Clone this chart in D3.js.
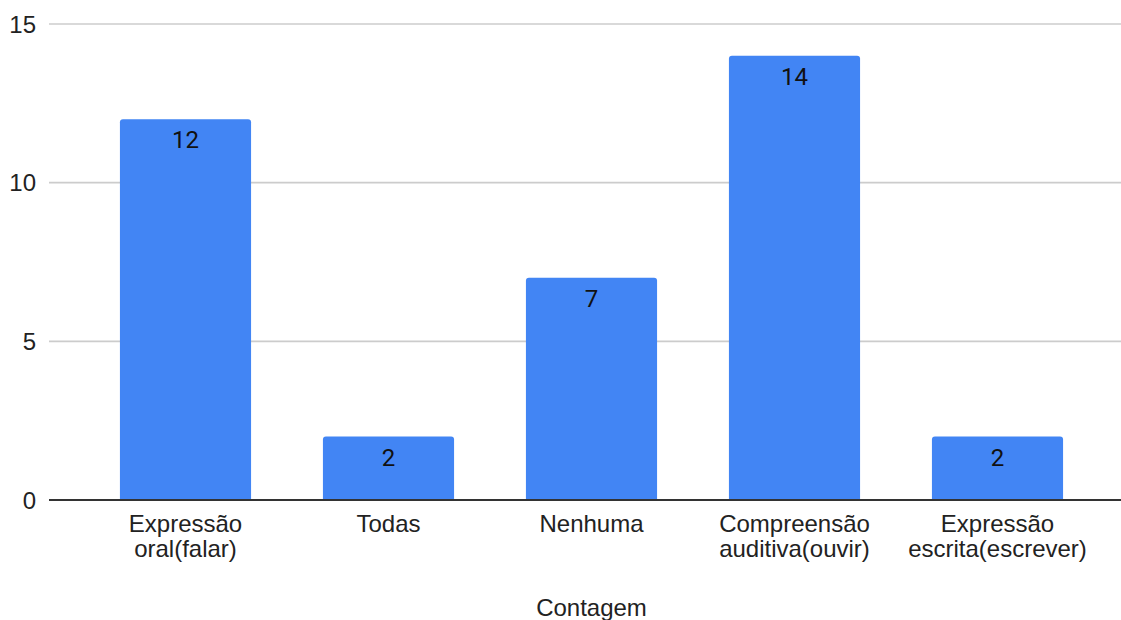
<!DOCTYPE html>
<html>
<head>
<meta charset="utf-8">
<script src="https://cdn.jsdelivr.net/npm/d3@7"></script>
<style>
  html, body { margin: 0; padding: 0; background: #fff; }
  svg { display: block; }
</style>
</head>
<body>
<svg id="chart" width="1121" height="620"></svg>
<script>
// Category labels (each split into lines) and counts
const categories = [
  ["Expressão", "oral(falar)"],
  ["Todas"],
  ["Nenhuma"],
  ["Compreensão", "auditiva(ouvir)"],
  ["Expressão", "escrita(escrever)"]
];
const counts = [12, 2, 7, 14, 2];
const yTicks = [0, 5, 10, 15];
const axisTitle = "Contagem";

const svg = d3.select("#chart");
const W = 1121;

const gridLeft = 49, gridRight = W;
const x = d3.scaleBand()
  .domain(d3.range(categories.length))
  .range([84, 1099])
  .paddingInner(0.354)
  .paddingOuter(0.177);

const y = d3.scaleLinear().domain([0, 15]).range([500, 24]);

// horizontal gridlines
svg.append("g")
  .selectAll("line")
  .data(yTicks.filter(d => d !== 0))
  .join("line")
  .attr("x1", gridLeft).attr("x2", gridRight)
  .attr("y1", d => y(d)).attr("y2", d => y(d))
  .attr("stroke", "#cccccc").attr("stroke-width", 1.6);

// y tick labels
svg.append("g")
  .selectAll("text")
  .data(yTicks)
  .join("text")
  .attr("x", 36)
  .attr("y", d => y(d))
  .attr("dy", "0.36em")
  .attr("text-anchor", "end")
  .attr("font-family", "Liberation Sans, Arial, sans-serif")
  .attr("font-size", 24)
  .attr("fill", "#222")
  .text(d => d);

// bars with lightly rounded top corners
const r = 3;
function barPath(i) {
  const x0 = x(i), x1 = x(i) + x.bandwidth();
  const y0 = y(counts[i]), yb = y(0);
  return `M${x0},${yb}V${y0 + r}Q${x0},${y0} ${x0 + r},${y0}H${x1 - r}Q${x1},${y0} ${x1},${y0 + r}V${yb}Z`;
}
svg.append("g")
  .selectAll("path")
  .data(d3.range(counts.length))
  .join("path")
  .attr("d", barPath)
  .attr("fill", "#4285f4");

// value labels inside the bar tops
svg.append("g")
  .selectAll("text")
  .data(d3.range(counts.length))
  .join("text")
  .attr("x", i => x(i) + x.bandwidth() / 2)
  .attr("y", i => y(counts[i]) + 29)
  .attr("text-anchor", "middle")
  .attr("font-family", "Roboto, sans-serif")
  .attr("font-size", 24)
  .attr("fill", "#111")
  .text(i => counts[i]);

// baseline
svg.append("line")
  .attr("x1", gridLeft).attr("x2", gridRight)
  .attr("y1", y(0)).attr("y2", y(0))
  .attr("stroke", "#333").attr("stroke-width", 2);

// category labels
const cat = svg.append("g")
  .selectAll("text")
  .data(categories)
  .join("text")
  .attr("text-anchor", "middle")
  .attr("font-family", "Liberation Sans, Arial, sans-serif")
  .attr("font-size", 24)
  .attr("fill", "#222");
cat.each(function(lines, i) {
  d3.select(this).selectAll("tspan")
    .data(lines)
    .join("tspan")
    .attr("x", x(i) + x.bandwidth() / 2)
    .attr("y", (d, k) => 532 + k * 25)
    .text(d => d);
});

// x-axis title
svg.append("text")
  .attr("x", (x.range()[0] + x.range()[1]) / 2)
  .attr("y", 616)
  .attr("text-anchor", "middle")
  .attr("font-family", "Liberation Sans, Arial, sans-serif")
  .attr("font-size", 24)
  .attr("fill", "#222")
  .text(axisTitle);
</script>
</body>
</html>
